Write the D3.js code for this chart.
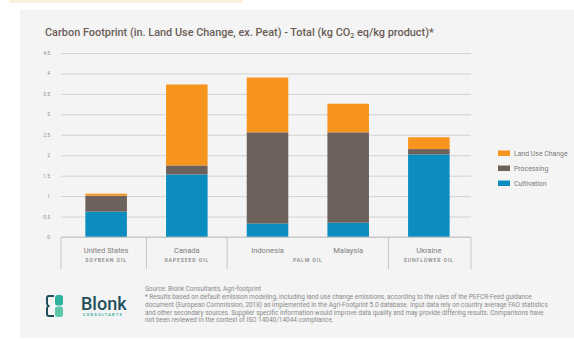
<!DOCTYPE html>
<html>
<head>
<meta charset="utf-8">
<script src="https://cdn.jsdelivr.net/npm/d3@7"></script>
<style>
  body { margin: 0; background: #fff; }
  svg { display: block; font-family: Roboto, "Noto Sans", sans-serif; }
</style>
</head>
<body>
<div id="chart"></div>
<script>
// values
var countries = ["United States", "Canada", "Indonesia", "Malaysia", "Ukraine"];
var oils = ["SOYBEAN OIL", "RAPESEED OIL", "PALM OIL", "PALM OIL", "SUNFLOWER OIL"];
var cultivation = [0.62, 1.53, 0.33, 0.35, 2.02];
var processing = [0.39, 0.22, 2.23, 2.21, 0.13];
var landUse = [0.05, 1.98, 1.34, 0.70, 0.29];
var yTicks = [0, 0.5, 1, 1.5, 2, 2.5, 3, 3.5, 4, 4.5];
var seriesNames = ["Cultivation", "Processing", "Land Use Change"];
var seriesColors = ["#0b8dbf", "#6d625b", "#f7941d"];

var footnote = [
    "* Results based on default emission modeling, including land use change emissions, according to the rules of the PEFCR-Feed guidance",
    "document (European Commission, 2018) as implemented in the Agri-Footprint 5.0 database. Input data rely on country average FAO statistics",
    "and other secondary sources. Supplier specific information would improve data quality and may provide differing results. Comparisons have",
    "not been reviewed in the context of ISO 14040/14044 compliance."
];

var width = 574;
var height = 340;

var svg = d3.select('#chart')
    .append('svg')
    .attr('width', width)
    .attr('height', height);

// page decoration
svg.append('rect')
    .attr('x', 9).attr('y', 0)
    .attr('width', 234).attr('height', 3)
    .attr('fill', '#fdf0dd');

svg.append('rect')
    .attr('x', 20).attr('y', 10)
    .attr('width', width - 20).attr('height', height - 12)
    .attr('fill', '#f4f4f4');

// title
var title = svg.append('text')
    .attr('x', 45)
    .attr('y', 36)
    .attr('fill', '#6a5e57')
    .style('font-size', '10.9px')
    .style('font-weight', 500);
title.append('tspan').text('Carbon Footprint (in. Land Use Change, ex. Peat) - Total (kg CO');
title.append('tspan').attr('dy', 2).style('font-size', '7px').text('2');
title.append('tspan').attr('dy', -2).text(' eq/kg product)*');

// scales
var plot = {left: 61, right: 471, top: 53, bottom: 237};

var rows = countries.map(function(c, i) {
    return {country: c, oil: oils[i], Cultivation: cultivation[i], Processing: processing[i], "Land Use Change": landUse[i]};
});

var x_scale = d3.scaleBand()
    .domain(countries)
    .range([plot.left + 5, plot.right - 2])
    .paddingInner(0.485)
    .paddingOuter(0.24);

var y_scale = d3.scaleLinear()
    .domain([0, 4.5])
    .range([plot.bottom, plot.top]);

// grid + tick labels
var y_axis = d3.axisLeft(y_scale)
    .tickValues(yTicks)
    .tickSize(-(plot.right - plot.left))
    .tickPadding(11)
    .tickFormat(function(d) { return d; });

var gy = svg.append('g')
    .attr('transform', 'translate(' + plot.left + ',0)')
    .call(y_axis);
gy.select('.domain').remove();
gy.selectAll('line').attr('stroke', '#c9c9c9').attr('stroke-width', 0.8);
gy.selectAll('text')
    .attr('fill', '#8a8a8a')
    .style('font-size', '4.8px')
    .style('font-family', 'Roboto, sans-serif');

// stacked bars
var stack = d3.stack().keys(seriesNames);
var layers = stack(rows);

svg.append('g').selectAll('g')
    .data(layers)
    .enter().append('g')
    .attr('fill', function(d, i) { return seriesColors[i]; })
    .selectAll('rect')
    .data(function(d) { return d; })
    .enter().append('rect')
    .attr('x', function(d) { return x_scale(d.data.country); })
    .attr('width', x_scale.bandwidth())
    .attr('y', function(d) { return y_scale(d[1]); })
    .attr('height', function(d) { return y_scale(d[0]) - y_scale(d[1]); });

// category boxes under the axis
var boxBottom = 269;
var groups = [];
rows.forEach(function(r, i) {
    var last = groups[groups.length - 1];
    if (last && last.oil == r.oil) {
        last.end = i;
    } else {
        groups.push({oil: r.oil, start: i, end: i});
    }
});

var catG = svg.append('g');
catG.append('line')
    .attr('x1', plot.left).attr('x2', plot.right)
    .attr('y1', plot.bottom).attr('y2', plot.bottom)
    .attr('stroke', '#bdbdbd').attr('stroke-width', 0.8);

var edges = [plot.left];
groups.forEach(function(g, i) {
    if (i < groups.length - 1) {
        var a = x_scale(countries[g.end]) + x_scale.bandwidth() / 2;
        var b = x_scale(countries[g.end + 1]) + x_scale.bandwidth() / 2;
        edges.push((a + b) / 2);
    }
});
edges.push(plot.right);

catG.selectAll('.edge')
    .data(edges)
    .enter().append('line')
    .attr('class', 'edge')
    .attr('x1', function(d) { return d; })
    .attr('x2', function(d) { return d; })
    .attr('y1', plot.bottom)
    .attr('y2', boxBottom)
    .attr('stroke', '#bdbdbd').attr('stroke-width', 0.8);

catG.selectAll('.country')
    .data(countries)
    .enter().append('text')
    .attr('class', 'country')
    .attr('x', function(d) { return x_scale(d) + x_scale.bandwidth() / 2; })
    .attr('y', 252.5)
    .attr('text-anchor', 'middle')
    .attr('fill', '#7d7d7d')
    .style('font-size', '7.5px')
    .text(function(d) { return d; });

catG.selectAll('.oil')
    .data(groups)
    .enter().append('text')
    .attr('class', 'oil')
    .attr('x', function(g) {
        var a = x_scale(countries[g.start]);
        var b = x_scale(countries[g.end]) + x_scale.bandwidth();
        return (a + b) / 2;
    })
    .attr('y', 262.3)
    .attr('text-anchor', 'middle')
    .attr('fill', '#858585')
    .style('font-size', '5.2px')
    .style('font-weight', 500)
    .style('letter-spacing', '0.85px')
    .text(function(g) { return g.oil; });

// legend
var legend = svg.selectAll('.legend')
    .data(seriesNames.slice().reverse())
    .enter().append('g')
    .attr('class', 'legend')
    .attr('transform', function(d, i) {
        return 'translate(498,' + (150.5 + i * 15) + ')';
    });

legend.append('rect')
    .attr('width', 12).attr('height', 5.5)
    .attr('fill', function(d) { return seriesColors[seriesNames.indexOf(d)]; });

legend.append('text')
    .attr('x', 16).attr('y', 5.3)
    .attr('fill', '#7a7a7a')
    .style('font-size', '6.9px')
    .text(function(d) { return d; });

// logo
var logo = svg.append('g').attr('transform', 'translate(46,295)');
logo.append('path')
    .attr('d', 'M8,1 H3 Q1,1 1,3 V8.5 Q1,10 2.5,11 Q1,12 1,13.5 V19 Q1,21 3,21 H8')
    .attr('fill', 'none').attr('stroke', '#1f4f5b').attr('stroke-width', 2);
logo.append('rect')
    .attr('x', 9).attr('y', 0).attr('width', 8).attr('height', 10.5).attr('rx', 2.5)
    .attr('fill', '#2fb39f');
logo.append('rect')
    .attr('x', 9).attr('y', 11.5).attr('width', 8).attr('height', 10.5).attr('rx', 2.5)
    .attr('fill', '#5cc7a8');
logo.append('path')
    .attr('d', 'M6,11 L9,9 L9,13 Z')
    .attr('fill', '#ffffff');

svg.append('text')
    .attr('x', 81).attr('y', 309.5)
    .attr('fill', '#1f4f5b')
    .style('font-size', '18px')
    .style('font-weight', 500)
    .text('Blonk');

svg.append('text')
    .attr('x', 83).attr('y', 316)
    .attr('fill', '#2ea79a')
    .style('font-size', '3.5px')
    .style('font-weight', 700)
    .style('letter-spacing', '1.45px')
    .text('CONSULTANTS');

// source + footnote
var notes = svg.append('g')
    .attr('fill', '#8a8a8a')
    .style('font-size', '6.45px');

notes.append('text')
    .attr('x', 145).attr('y', 291)
    .text('Source: Blonk Consultants, Agri-footprint');

notes.selectAll('.fn')
    .data(footnote)
    .enter().append('text')
    .attr('class', 'fn')
    .attr('x', 145)
    .attr('y', function(d, i) { return 299 + i * 7.8; })
    .text(function(d) { return d; });
</script>
</body>
</html>
